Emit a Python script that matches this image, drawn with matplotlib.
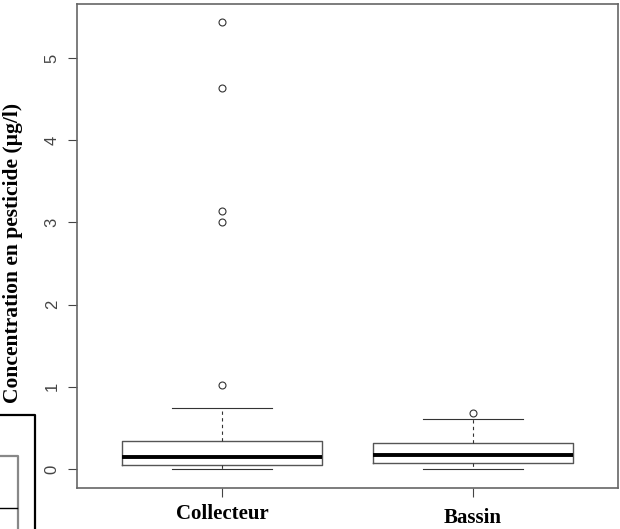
import matplotlib
matplotlib.use("Agg")
import matplotlib.pyplot as plt
from matplotlib.lines import Line2D

# Data
categories = ["Collecteur", "Bassin"]
whislo = [0.0, 0.0]
q1 = [0.05, 0.07]
med = [0.146, 0.166]
q3 = [0.34, 0.32]
whishi = [0.74, 0.61]
fliers = [[5.44, 4.63, 3.14, 3.00, 1.02], [0.685]]
yticks = [0, 1, 2, 3, 4, 5]

fig = plt.figure(figsize=(6.2, 5.29), dpi=100)
ax = fig.add_axes([77/620, 1-488/529, (618-77)/620, (488-4)/529])

stats = []
for i, c in enumerate(categories):
    stats.append(dict(label=c, whislo=whislo[i], q1=q1[i], med=med[i],
                      q3=q3[i], whishi=whishi[i], fliers=fliers[i]))

boxc = "#555555"
ax.bxp(stats, positions=[1, 2], widths=0.8,
       boxprops=dict(color=boxc, lw=1.0),
       medianprops=dict(color="black", lw=2.8, solid_capstyle="butt"),
       whiskerprops=dict(color="#333333", lw=0.8, ls=(0, (3, 3))),
       capprops=dict(color="#333333", lw=0.8),
       capwidths=0.4,
       flierprops=dict(marker="o", markerfacecolor="none", markeredgecolor="#333333",
                       markersize=5, markeredgewidth=0.8),
       manage_ticks=False)

ax.set_xlim(0.42, 2.58)
ax.set_ylim(-0.231, 5.657)
for s in ax.spines.values():
    s.set_color("#666666")
    s.set_linewidth(1.2)

ax.set_yticks(yticks)
ax.set_yticklabels([str(t) for t in yticks], rotation=90, va="center",
                   family="Liberation Sans", fontsize=12, color="#444444")
ax.tick_params(axis="y", length=6.5, width=0.8, color="#444444", pad=6)
ax.set_xticks([1, 2])
ax.set_xticklabels(["", ""])
ax.tick_params(axis="x", length=6.5, width=0.8, color="#444444")

tr = ax.get_xaxis_transform()
ax.text(1, -0.064, categories[0], transform=tr, ha="center", va="baseline",
        family="Liberation Serif", fontweight="bold", fontsize=15)
ax.text(2, -0.0723, categories[1], transform=tr, ha="center", va="baseline",
        family="Liberation Serif", fontweight="bold", fontsize=15)

fig.text(13.5/620, 1-253/529, "Concentration en pesticide (µg/l)", rotation=90,
         ha="center", va="center", family="Liberation Serif", fontweight="bold",
         fontsize=15.5)

# artifact lines at bottom-left
for (xs, ys, col, lw) in [([0, 35, 35], [415, 415, 529], "black", 1.6),
                          ([0, 18, 18], [456, 456, 529], "#888888", 1.6),
                          ([0, 17], [508, 508], "black", 1.0)]:
    fx = [x/620 for x in xs]
    fy = [1-y/529 for y in ys]
    fig.add_artist(Line2D(fx, fy, color=col, lw=lw, transform=fig.transFigure))

fig.savefig("out.png", dpi=100)
